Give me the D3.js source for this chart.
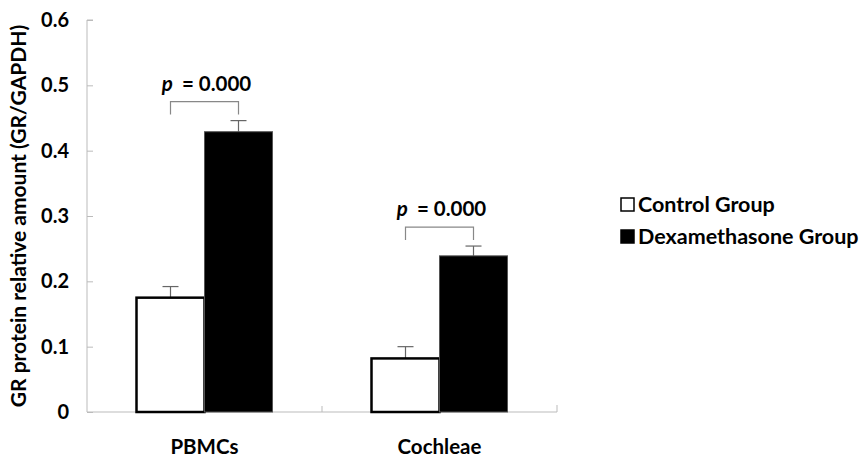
<!DOCTYPE html>
<html>
<head>
<meta charset="utf-8">
<style> body { margin: 0; background: #fff; } text { font-family: Lato, "Open Sans", sans-serif; font-weight: bold; } </style>
<script src="https://d3js.org/d3.v7.min.js"></script>
</head>
<body>
<svg id="chart" width="860" height="457"></svg>
<script>
    var categories = ['PBMCs', 'Cochleae']
    var groups = ['Control Group', 'Dexamethasone Group']
    var controlVals = [0.175, 0.082]
    var controlErr = [0.017, 0.018]
    var dexVals = [0.429, 0.239]
    var dexErr = [0.017, 0.015]
    var pLabels = ['= 0.000', '= 0.000']
    var yTicks = [0, 0.1, 0.2, 0.3, 0.4, 0.5, 0.6]

    let colors = { 'Control Group': '#fff', 'Dexamethasone Group': '#000' }

    const svg = d3.select('#chart')

    let x = d3.scaleBand()
        .domain(categories)
        .range([87, 557])

    let sub = d3.scaleBand()
        .domain(groups)
        .range([0, 136])

    let y = d3.scaleLinear()
        .domain([0, 0.6])
        .range([412, 20])

    // y axis
    var yAxis = svg.append('g')
        .attr('transform', 'translate(87,0)')
        .call(d3.axisRight(y).tickValues(yTicks).tickSize(6).tickFormat(d => d === 0 ? '0' : d3.format('.1f')(d)))
    yAxis.select('.domain').attr('stroke', '#bbb').attr('d', 'M6,20H0V412')
    yAxis.selectAll('line').attr('stroke', '#bbb')
    yAxis.selectAll('text')
        .attr('x', -18)
        .attr('text-anchor', 'end')
        .style('font-size', '20px')
        .style('fill', '#000')

    // x axis
    var xAxis = svg.append('g')
        .attr('transform', 'translate(0,412)')
        .call(d3.axisTop(x).tickSize(0).tickFormat(''))
    xAxis.select('.domain').attr('stroke', '#bbb').attr('d', 'M87,0H557V-7')
    xAxis.selectAll('.tick').remove()
    xAxis.append('line')
        .attr('x1', x('Cochleae')).attr('x2', x('Cochleae'))
        .attr('y1', 0).attr('y2', -6)
        .attr('stroke', '#bbb')

    svg.append('g')
        .selectAll('text')
        .data(categories)
        .join('text')
            .attr('x', d => x(d) + x.bandwidth() / 2)
            .attr('y', 454)
            .attr('text-anchor', 'middle')
            .style('font-size', '20.5px')
            .text(d => d)

    var rows = categories.map((c, i) => ({
        cat: c,
        bars: [
            { g: groups[0], v: controlVals[i], e: controlErr[i] },
            { g: groups[1], v: dexVals[i], e: dexErr[i] }
        ]
    }))

    var grp = svg.append('g')
        .selectAll('g')
        .data(rows)
        .join('g')
            .attr('transform', d => `translate(${x(d.cat) + (x.bandwidth() - 136) / 2},0)`)

    // error bars (drawn first, bars cover the lower half)
    grp.selectAll('.err')
        .data(d => d.bars)
        .join('g')
        .attr('class', 'err')
        .each(function(d) {
            var cx = sub(d.g) + sub.bandwidth() / 2
            var g = d3.select(this)
            g.append('line').attr('x1', cx).attr('x2', cx)
                .attr('y1', y(d.v)).attr('y2', y(d.v + d.e))
                .attr('stroke', '#666').attr('stroke-width', 1.2)
            g.append('line').attr('x1', cx - 8).attr('x2', cx + 8)
                .attr('y1', y(d.v + d.e)).attr('y2', y(d.v + d.e))
                .attr('stroke', '#666').attr('stroke-width', 1.2)
        })

    grp.selectAll('rect')
        .data(d => d.bars)
        .join('rect')
            .attr('x', d => sub(d.g))
            .attr('y', d => y(d.v))
            .attr('width', sub.bandwidth())
            .attr('height', d => y(0) - y(d.v))
            .attr('fill', d => colors[d.g])
            .attr('stroke', d => d.g === groups[0] ? '#000' : '#555')
            .attr('stroke-width', d => d.g === groups[0] ? 2.5 : 1)

    // significance brackets
    grp.each(function(d, i) {
        var g = d3.select(this)
        var x1 = sub(groups[0]) + sub.bandwidth() / 2
        var x2 = sub(groups[1]) + sub.bandwidth() / 2
        var top = y(d.bars[1].v + d.bars[1].e) - 19
        g.append('path')
            .attr('d', `M${x1},${top + 13}V${top}H${x2}V${top + 13}`)
            .attr('fill', 'none')
            .attr('stroke', '#888')
            .attr('stroke-width', 1.2)
        var t = g.append('text')
            .attr('x', (x1 + x2) / 2 + 2)
            .attr('y', top - 11)
            .attr('text-anchor', 'middle')
            .style('font-size', '20.5px')
        t.append('tspan').style('font-style', 'italic').text('p')
        t.append('tspan').attr('dx', 9).text(pLabels[i])
    })

    // y label
    svg.append('text')
        .attr('transform', 'translate(26,216) rotate(-90)')
        .attr('text-anchor', 'middle')
        .style('font-size', '21px')
        .text('GR protein relative amount (GR/GAPDH)')

    // legend
    var leg = svg.append('g')
        .selectAll('g')
        .data(groups)
        .join('g')
            .attr('transform', (d, i) => `translate(621,${198 + i * 32})`)
    leg.append('rect')
        .attr('width', 13).attr('height', 13)
        .attr('fill', d => colors[d])
        .attr('stroke', '#000').attr('stroke-width', 1.5)
    leg.append('text')
        .attr('x', 17).attr('y', 14)
        .style('font-size', '21.5px')
        .text(d => d)
</script>
</body>
</html>
